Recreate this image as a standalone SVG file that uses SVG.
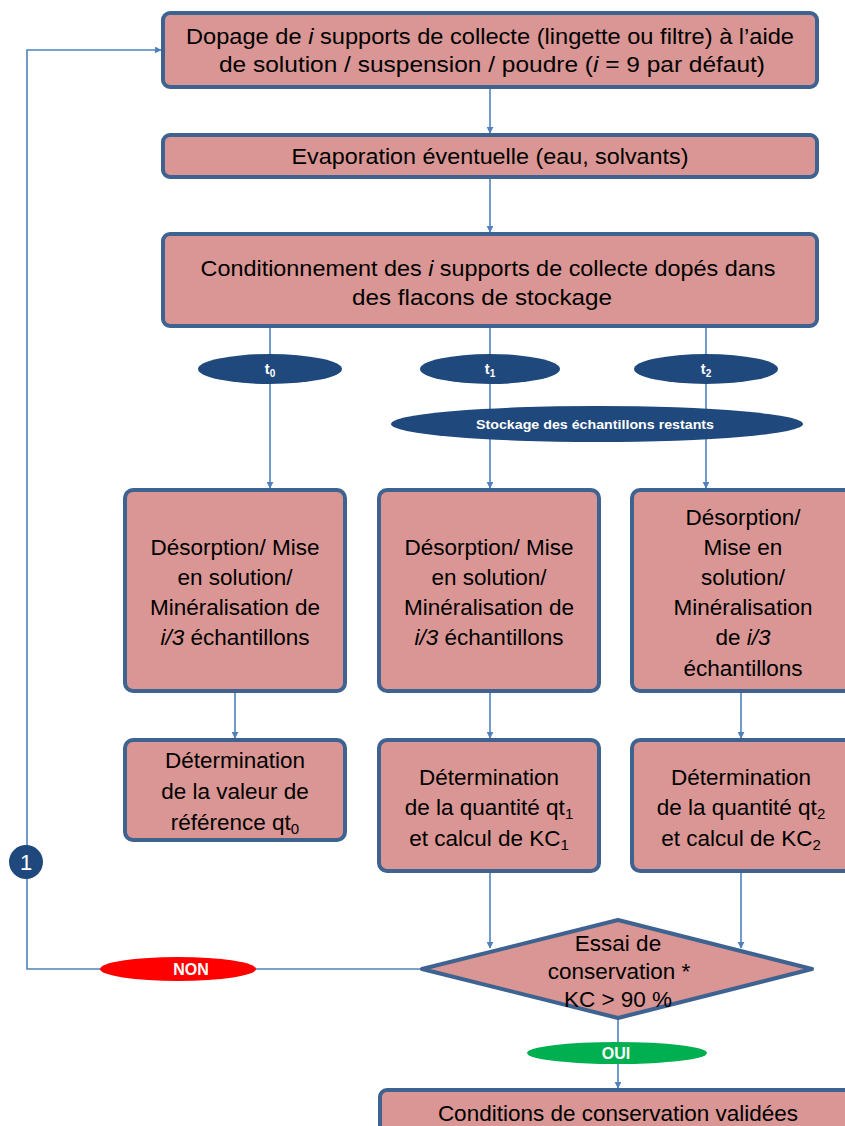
<svg xmlns="http://www.w3.org/2000/svg" width="845" height="1126" viewBox="0 0 845 1126">
<defs>
<style>
.box{fill:#d99694;stroke:#3e6390;stroke-width:4}
.t{font-family:"Liberation Sans",Arial,sans-serif;fill:#000;text-anchor:middle;font-size:22.5px}
.c{stroke:#4f81bd;stroke-width:1.6;fill:none}
.el{fill:#1f497d}
.w{font-family:"Liberation Sans",Arial,sans-serif;fill:#fff;text-anchor:middle;font-weight:bold}
</style>
<marker id="a" viewBox="0 0 10 10" refX="9" refY="5" markerWidth="7" markerHeight="7" markerUnits="userSpaceOnUse" orient="auto"><path d="M0,0L10,5L0,10z" fill="#4f81bd"/></marker>
</defs>
<g id="connectors">
<path class="c" d="M490,87V133" marker-end="url(#a)"/>
<path class="c" d="M490,177V232" marker-end="url(#a)"/>
<path class="c" d="M270,326V488" marker-end="url(#a)"/>
<path class="c" d="M490,326V488" marker-end="url(#a)"/>
<path class="c" d="M706,326V488" marker-end="url(#a)"/>
<path class="c" d="M235,691V738" marker-end="url(#a)"/>
<path class="c" d="M490,691V738" marker-end="url(#a)"/>
<path class="c" d="M741,691V738" marker-end="url(#a)"/>
<path class="c" d="M490,871V948" marker-end="url(#a)"/>
<path class="c" d="M741,871V948" marker-end="url(#a)"/>
<path class="c" d="M618,1018V1088" marker-end="url(#a)"/>
<path class="c" d="M422,969H27V50H161" marker-end="url(#a)"/>
</g>
<g id="n1"><rect class="box" x="163" y="13" width="654" height="74" rx="7"/>
<text class="t" x="490" y="44" textLength="608" lengthAdjust="spacingAndGlyphs">Dopage de <tspan font-style="italic">i</tspan> supports de collecte (lingette ou filtre) à l’aide</text>
<text class="t" x="492" y="72" textLength="546" lengthAdjust="spacingAndGlyphs">de solution / suspension / poudre  (<tspan font-style="italic">i</tspan> = 9 par défaut)</text></g>
<g id="n2"><rect class="box" x="163" y="135" width="654" height="42" rx="7"/>
<text class="t" x="490" y="164" textLength="397" lengthAdjust="spacingAndGlyphs">Evaporation éventuelle (eau, solvants)</text></g>
<g id="n3"><rect class="box" x="163" y="234" width="654" height="92" rx="7"/>
<text class="t" x="488" y="276" textLength="575" lengthAdjust="spacingAndGlyphs">Conditionnement  des <tspan font-style="italic">i</tspan> supports de collecte dopés dans</text>
<text class="t" x="482" y="305" textLength="260" lengthAdjust="spacingAndGlyphs">des flacons de stockage</text></g>
<g id="e0"><ellipse class="el" cx="270" cy="369" rx="72" ry="15"/><text class="w" font-size="14.5" x="270" y="374">t<tspan font-size="10" dy="3">0</tspan></text></g>
<g id="e1"><ellipse class="el" cx="490" cy="369" rx="70" ry="15"/><text class="w" font-size="14.5" x="490" y="374">t<tspan font-size="10" dy="3">1</tspan></text></g>
<g id="e2"><ellipse class="el" cx="706" cy="369" rx="72" ry="15"/><text class="w" font-size="14.5" x="706" y="374">t<tspan font-size="10" dy="3">2</tspan></text></g>
<g id="es"><ellipse class="el" cx="597" cy="424" rx="206" ry="18"/><text class="w" font-size="13.5" x="595" y="429" textLength="238" lengthAdjust="spacingAndGlyphs">Stockage des échantillons restants</text></g>
<g id="d0"><rect class="box" x="125" y="490" width="220" height="201" rx="8"/>
<text class="t" x="235" y="555">Désorption/ Mise</text>
<text class="t" x="235" y="585">en solution/</text>
<text class="t" x="235" y="615">Minéralisation de</text>
<text class="t" x="235" y="645"><tspan font-style="italic">i/3</tspan> échantillons</text></g>
<g id="d1"><rect class="box" x="379" y="490" width="220" height="201" rx="8"/>
<text class="t" x="489" y="555">Désorption/ Mise</text>
<text class="t" x="489" y="585">en solution/</text>
<text class="t" x="489" y="615">Minéralisation de</text>
<text class="t" x="489" y="645"><tspan font-style="italic">i/3</tspan> échantillons</text></g>
<g id="d2"><rect class="box" x="632" y="490" width="225" height="201" rx="8"/>
<text class="t" x="743" y="525">Désorption/</text>
<text class="t" x="743" y="555">Mise en</text>
<text class="t" x="743" y="585">solution/</text>
<text class="t" x="743" y="615">Minéralisation</text>
<text class="t" x="743" y="645">de <tspan font-style="italic">i/3</tspan></text>
<text class="t" x="743" y="676">échantillons</text></g>
<g id="q0"><rect class="box" x="125" y="740" width="220" height="100" rx="8"/>
<text class="t" x="235" y="768">Détermination</text>
<text class="t" x="235" y="799">de la valeur de</text>
<text class="t" x="235" y="830">référence qt<tspan font-size="15" dy="4">0</tspan></text></g>
<g id="q1"><rect class="box" x="379" y="740" width="220" height="131" rx="8"/>
<text class="t" x="489" y="785">Détermination</text>
<text class="t" x="489" y="815">de la quantité qt<tspan font-size="15" dy="4">1</tspan></text>
<text class="t" x="489" y="846">et calcul de KC<tspan font-size="15" dy="4">1</tspan></text></g>
<g id="q2"><rect class="box" x="632" y="740" width="225" height="131" rx="8"/>
<text class="t" x="741" y="785">Détermination</text>
<text class="t" x="741" y="815">de la quantité qt<tspan font-size="15" dy="4">2</tspan></text>
<text class="t" x="741" y="846">et calcul de KC<tspan font-size="15" dy="4">2</tspan></text></g>
<g id="dec"><path class="box" d="M422,969L618,920L812,969L618,1018z" stroke-linejoin="round"/>
<text class="t" font-size="21" x="618" y="951">Essai de</text>
<text class="t" font-size="21" x="619" y="979">conservation *</text>
<text class="t" font-size="21" x="618" y="1007">KC &gt; 90 %</text></g>
<g id="non"><ellipse cx="178" cy="969" rx="78" ry="12" fill="#ff0000"/><text class="w" font-size="16" x="191" y="975">NON</text></g>
<g id="oui"><ellipse cx="617" cy="1053" rx="90" ry="11" fill="#00b050"/><text class="w" font-size="16" x="616" y="1059">OUI</text></g>
<g id="c1"><circle cx="26" cy="862" r="17" fill="#1f497d"/><text x="26" y="870" font-family="Liberation Sans,Arial,sans-serif" font-size="22" fill="#fff" text-anchor="middle">1</text></g>
<g id="fin"><rect class="box" x="380" y="1090" width="480" height="50" rx="7"/>
<text class="t" x="618" y="1121">Conditions de conservation validées</text></g>
</svg>
